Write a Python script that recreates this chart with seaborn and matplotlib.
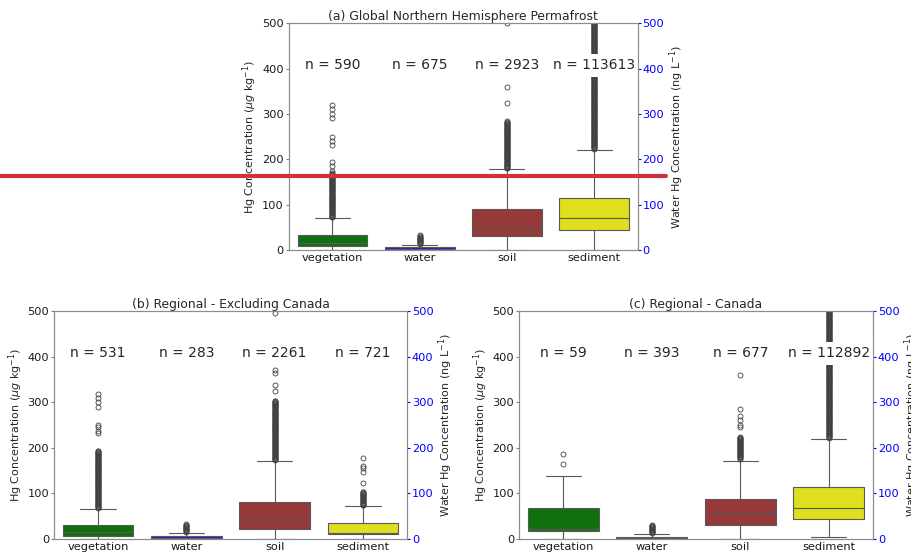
import numpy as np
import pandas as pd
import seaborn as sns
import matplotlib.pyplot as plt
from matplotlib.lines import Line2D

sns.set_style("ticks")
plt.rcParams['font.size'] = 8.2

categories = ['vegetation', 'water', 'soil', 'sediment']
palette = ['green', 'blue', 'brown', 'yellow']

titles = ['(a) Global Northern Hemisphere Permafrost',
          '(b) Regional - Excluding Canada',
          '(c) Regional - Canada']

counts_a = [590, 675, 2923, 113613]
counts_b = [531, 283, 2261, 721]
counts_c = [59, 393, 677, 112892]

# whisker low, q1, median, q3, whisker high
stats_a = [[0, 9, 16, 34, 70], [0, 1, 3, 6, 12], [0, 31, 49, 90, 178], [0, 44, 70, 115, 221]]
stats_b = [[0, 7, 15, 31, 65], [0, 0, 3, 6, 14], [0, 21, 39, 81, 171], [0, 12, 13, 36, 72]]
stats_c = [[0, 18, 22, 67, 138], [0, 0, 2, 5, 11], [0, 30, 56, 88, 172], [4, 43, 69, 114, 220]]

# single outliers
outliers_a = [[175, 185, 195, 232, 240, 250, 290, 300, 310, 320], [], [325, 360, 500], []]
outliers_b = [[232, 236, 246, 250, 290, 300, 310, 318], [], [325, 337, 365, 370, 495], [123, 147, 155, 160, 177]]
outliers_c = [[165, 186], [], [245, 250, 260, 270, 285, 360], []]

# dense runs of outliers (from, to)
runs_a = [(72, 170), (14, 33), (180, 285), (223, 520)]
runs_b = [(68, 195), (16, 33), (173, 305), (74, 105)]
runs_c = [None, (13, 32), (176, 225), (222, 520)]


def make_values(stat, singles, run):
    lo, q1, med, q3, hi = stat
    extra = list(singles)
    if run is not None:
        extra += list(np.arange(run[0], run[1], 1.5))
    m = len(extra)
    return [lo] * (m + 1) + [q1] * (m + 2) + [med] + [q3] * (m + 2) + [hi] + extra


def panel(ax, title, stats, singles, runs, counts):
    rows = []
    for cat, st, s, r in zip(categories, stats, singles, runs):
        for v in make_values(st, s, r):
            rows.append((cat, v))
    df = pd.DataFrame(rows, columns=['category', 'value'])
    sns.boxplot(data=df, x='category', y='value', hue='category', order=categories,
                hue_order=categories, palette=palette, legend=False, ax=ax,
                linewidth=0.8, linecolor='0.35', fliersize=3.6,
                flierprops=dict(markeredgewidth=0.6, markeredgecolor='0.25'))
    ax.set_ylim(0, 500)
    ax.set_xlabel('')
    ax.set_ylabel(r'Hg Concentration ($\mu g$ kg$^{-1}$)', fontsize=8, labelpad=2)
    ax.set_title(title, pad=2, fontsize=8.9)
    ax.tick_params(axis='y', length=2.5, pad=1, colors='0.5', labelcolor='0.1')
    ax.tick_params(axis='x', length=0, pad=2, labelcolor='0.1')
    for i, n in enumerate(counts):
        ax.text(i, 407, f'n = {n}', ha='center', va='center', fontsize=10,
                bbox=dict(facecolor='white', edgecolor='none', pad=3.5))
    ax2 = ax.twinx()
    ax2.set_ylim(0, 500)
    ax2.tick_params(axis='y', colors='blue', length=2.5, pad=1)
    ax2.set_ylabel(r'Water Hg Concentration (ng L$^{-1}$)', fontsize=8, labelpad=2)
    for a in (ax, ax2):
        for sp in a.spines.values():
            sp.set_visible(True)
            sp.set_color('0.55')


fig = plt.figure(figsize=(9.11, 5.6), dpi=100)
ax_a = fig.add_axes([0.317, 0.5536, 0.383, 0.405])
ax_b = fig.add_axes([0.0593, 0.0375, 0.3875, 0.407])
ax_c = fig.add_axes([0.5697, 0.0375, 0.3886, 0.407])

panel(ax_a, titles[0], stats_a, outliers_a, runs_a, counts_a)
panel(ax_b, titles[1], stats_b, outliers_b, runs_b, counts_b)
panel(ax_c, titles[2], stats_c, outliers_c, runs_c, counts_c)

fig.add_artist(Line2D([0, 0.731], [0.6866, 0.6866], color='#d0333a', lw=3))

fig.savefig('out.png', dpi=100)
